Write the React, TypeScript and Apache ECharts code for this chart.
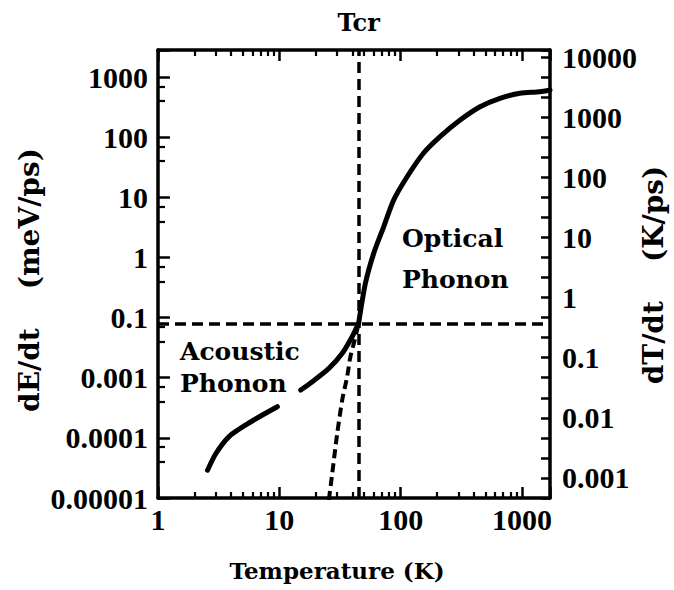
import React, { useEffect, useRef } from "react";
import * as echarts from "echarts";

// Temperature axis (K), log scale
const T_MIN = 1;
const T_MAX = 1700;
const T_TICKS = [1, 10, 100, 1000];
const T_TICK_LABELS = ["1", "10", "100", "1000"];

// Energy-loss rate axis dE/dt (meV/ps), log scale, with the labels printed at each decade
const DEDT_MIN = 1e-4;
const DEDT_MAX = 2818;
const DEDT_TICKS = [1000, 100, 10, 1, 0.1, 0.01, 0.001, 0.0001];
const DEDT_TICK_LABELS = ["1000", "100", "10", "1", "0.1", "0.001", "0.0001", "0.00001"];

// Cooling-rate axis dT/dt (K/ps): the same scale multiplied by a constant
const K_PER_MEV = 4.64;
const DTDT_TICKS = [10000, 1000, 100, 10, 1, 0.1, 0.01, 0.001];
const DTDT_TICK_LABELS = ["10000", "1000", "100", "10", "1", "0.1", "0.01", "0.001"];

// Axis titles
const X_TITLE = "Temperature (K)";
const LEFT_TITLE = "dE/dt    (meV/ps)";
const RIGHT_TITLE = "dT/dt    (K/ps)";

// Crossover between acoustic and optical phonon emission
const TCR = 45;
const CROSSOVER_RATE = 0.08;

// Acoustic phonon emission rate (meV/ps); "-" marks the break under the label
const ACOUSTIC_T = [2.56, 3.0, 3.85, 5.29, 7.25, 9.63, 12, 15.0, 18.7, 25.6, 33.0, 39.8, 45.0];
const ACOUSTIC_RATE: (number | string)[] = [
  2.9e-4, 5.5e-4, 1.05e-3, 1.64e-3, 2.4e-3, 3.3e-3, "-", 6.25e-3, 8.6e-3, 0.0143, 0.0255, 0.048, 0.08,
];

// Optical phonon emission rate (meV/ps), below and above Tcr
const OPTICAL_LOW_T = [25.6, 27.3, 30.0, 33.0, 36.2, 38.5, 41.8, 45.0];
const OPTICAL_LOW_RATE = [9.3e-5, 2.6e-4, 1.19e-3, 4.3e-3, 0.0104, 0.0223, 0.0424, 0.08];
const OPTICAL_HIGH_T = [45.0, 51.2, 59.9, 72.4, 87.5, 113, 154, 211, 309, 451, 658, 961, 1400, 1700];
const OPTICAL_HIGH_RATE = [0.08, 0.372, 1.17, 3.24, 9.0, 22, 54, 102, 193, 321, 444, 537, 571, 610];

const SERIF_NUM = "Liberation Serif";
const SERIF_TEXT = "DejaVu Serif";
const INK = "#000";

const sameDecade = (a: number, b: number) => Math.abs(Math.log10(a) - Math.log10(b)) < 1e-6;

// Labels for a log axis: text only at the listed decades
const labelFor = (ticks: number[], labels: string[]) => (v: number) => {
  const i = ticks.findIndex((t) => sameDecade(v, t));
  return i >= 0 ? labels[i] : "";
};

// The dT/dt axis is laid out in decades, shifted so that it starts on a whole number
const RIGHT_SHIFT = -3 - Math.log10(DEDT_MIN * K_PER_MEV);
const RIGHT_MAX = Math.log10(DEDT_MAX * K_PER_MEV) + RIGHT_SHIFT;

const shiftedDecadeLabel = (u: number) => {
  const e = u - RIGHT_SHIFT;
  const k = Math.round(e);
  if (Math.abs(e - k) > 0.01) return "";
  const i = DTDT_TICKS.findIndex((t) => sameDecade(Math.pow(10, k), t));
  return i >= 0 ? DTDT_TICK_LABELS[i] : "";
};

const pairs = (xs: number[], ys: (number | string)[]) => xs.map((x, i) => [x, ys[i]]);

export default function App() {
  const ref = useRef<HTMLDivElement>(null);

  useEffect(() => {
    if (!ref.current) return;
    const chart = echarts.init(ref.current, undefined, { renderer: "svg" });

    const frameLine = () => ({ show: true, onZero: false, lineStyle: { color: INK, width: 3.5 } });
    const tickLabel = () => ({ fontFamily: SERIF_NUM, fontWeight: "bold" as const, fontSize: 30, color: INK });
    const majorTick = (length: number) => ({
      show: true,
      inside: true,
      length,
      lineStyle: { color: INK, width: 2.5 },
    });
    const minorTick = (splitNumber: number, length: number) => ({
      show: true,
      splitNumber,
      length,
      lineStyle: { color: INK, width: 2.2 },
    });

    const logX = (position: "bottom" | "top", withLabels: boolean) => ({
      type: "log" as const,
      logBase: 10,
      min: T_MIN,
      max: T_MAX,
      position,
      axisLine: frameLine(),
      axisTick: majorTick(11),
      minorTick: minorTick(9, 6),
      splitLine: { show: false },
      minorSplitLine: { show: false },
      axisLabel: withLabels
        ? { ...tickLabel(), margin: 6, formatter: labelFor(T_TICKS, T_TICK_LABELS) }
        : { show: false },
    });

    const titleFont = (size: number) => `bold ${size}px "${SERIF_TEXT}"`;

    chart.setOption({
      animation: false,
      backgroundColor: "#fff",
      grid: { left: 158, right: 124, top: 50, bottom: 92 },
      xAxis: [logX("bottom", true), logX("top", false)],
      yAxis: [
        {
          type: "log",
          logBase: 10,
          min: DEDT_MIN,
          max: DEDT_MAX,
          position: "left",
          axisLine: frameLine(),
          axisTick: majorTick(12),
          minorTick: minorTick(3, 7),
          splitLine: { show: false },
          minorSplitLine: { show: false },
          axisLabel: { ...tickLabel(), margin: 10, formatter: labelFor(DEDT_TICKS, DEDT_TICK_LABELS) },
        },
        {
          type: "value",
          min: -3,
          max: RIGHT_MAX,
          interval: 1 / 3,
          position: "right",
          axisLine: frameLine(),
          axisTick: majorTick(9),
          splitLine: { show: false },
          axisLabel: { ...tickLabel(), margin: 12, formatter: shiftedDecadeLabel },
        },
      ],
      series: [
        {
          name: "Acoustic Phonon",
          type: "line",
          xAxisIndex: 0,
          yAxisIndex: 0,
          data: pairs(ACOUSTIC_T, ACOUSTIC_RATE),
          showSymbol: false,
          connectNulls: false,
          smooth: 0.25,
          lineStyle: { color: INK, width: 5, cap: "round", join: "round" },
        },
        {
          name: "Optical Phonon (below Tcr)",
          type: "line",
          xAxisIndex: 0,
          yAxisIndex: 0,
          data: pairs(OPTICAL_LOW_T, OPTICAL_LOW_RATE),
          showSymbol: false,
          smooth: 0.25,
          lineStyle: { color: INK, width: 4, type: [9, 5] },
        },
        {
          name: "Optical Phonon",
          type: "line",
          xAxisIndex: 0,
          yAxisIndex: 0,
          data: pairs(OPTICAL_HIGH_T, OPTICAL_HIGH_RATE),
          showSymbol: false,
          smooth: 0.25,
          lineStyle: { color: INK, width: 5, cap: "round", join: "round" },
          markLine: {
            silent: true,
            symbol: "none",
            animation: false,
            lineStyle: { color: INK, width: 3.5, type: [11, 6] },
            data: [
              {
                xAxis: TCR,
                label: {
                  show: true,
                  position: "end",
                  distance: 16,
                  formatter: "Tcr",
                  fontFamily: SERIF_TEXT,
                  fontWeight: "bold",
                  fontSize: 24,
                  color: INK,
                },
              },
              { yAxis: CROSSOVER_RATE, label: { show: false } },
            ],
          },
        },
      ],
      graphic: [
        {
          type: "text",
          x: 337,
          y: 570,
          z: 100,
          style: { text: X_TITLE, font: titleFont(23), fill: INK, align: "center", verticalAlign: "middle" },
        },
        {
          type: "text",
          x: 29,
          y: 280,
          rotation: Math.PI / 2,
          z: 100,
          style: { text: LEFT_TITLE, font: titleFont(28), fill: INK, align: "center", verticalAlign: "middle" },
        },
        {
          type: "text",
          x: 653,
          y: 275,
          rotation: Math.PI / 2,
          z: 100,
          style: { text: RIGHT_TITLE, font: titleFont(28), fill: INK, align: "center", verticalAlign: "middle" },
        },
        {
          type: "text",
          left: 180,
          top: 335,
          z: 100,
          style: { text: "Acoustic\nPhonon", font: titleFont(25), lineHeight: 32, fill: INK },
        },
        {
          type: "text",
          left: 402,
          top: 218,
          z: 100,
          style: { text: "Optical\nPhonon", font: titleFont(25), lineHeight: 41, fill: INK },
        },
      ],
    });

    return () => chart.dispose();
  }, []);

  return (
    <div
      ref={ref}
      style={{ position: "fixed", left: 0, top: 0, width: 674, height: 590, background: "#fff" }}
    />
  );
}
